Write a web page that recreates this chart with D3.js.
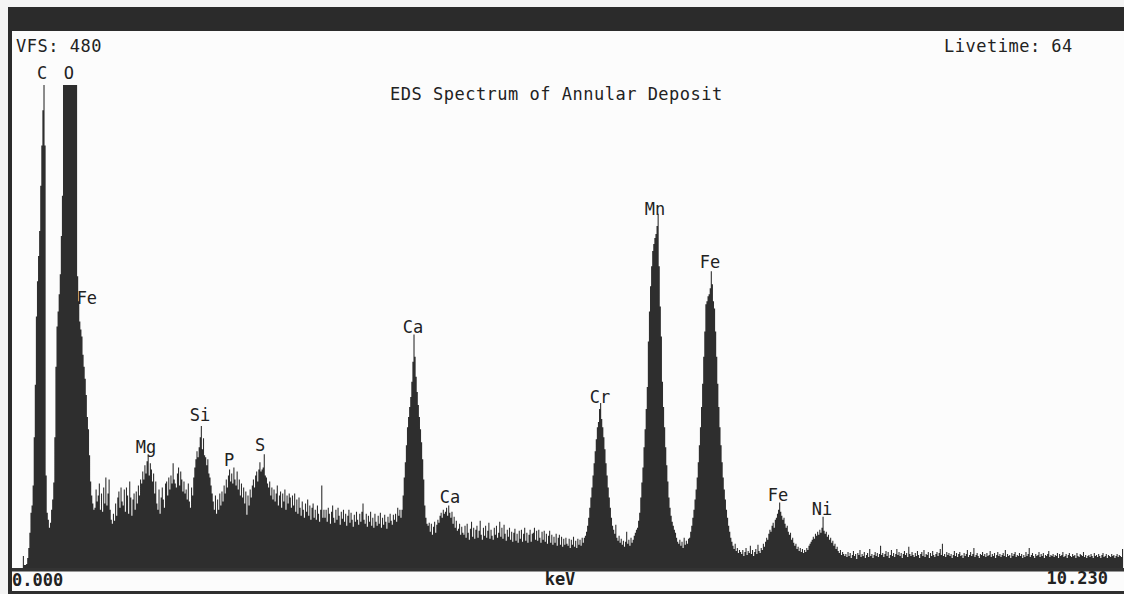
<!DOCTYPE html>
<html>
<head>
<meta charset="utf-8">
<script src="https://cdn.jsdelivr.net/npm/d3@7"></script>
<style>
  html, body { margin: 0; padding: 0; background: #f4f4f4; }
  svg { display: block; }
  text { font-family: "DejaVu Sans Mono", "Liberation Mono", monospace; fill: #222; }
</style>
</head>
<body>
<svg id="chart" width="1124" height="594"></svg>
<script>
// Acquisition settings
const vfs = 480;              // vertical full scale, counts
const liveTime = 64;          // seconds
const keVPerChannel = 0.01;   // 10 eV per channel
const energyRange = [0, 10.23];

// Counts per channel (1024 channels, 0 - 10.23 keV), rows of 32 channels
const counts = [
  0,0,0,0,0,0,0,0,0,0, 12,3,3,4,10,20,35,55,62,82, 130,182,250,285,310,335,380,420,455,480, 420,92,
  55,48,40,45,58,68,85,130,200,240, 255,272,292,330,370,480,480,480,480,480, 480,480,480,480,480,480,480,480,290,265, 245,237,
  230,212,200,188,172,150,138,112,86,72, 64,58,60,78,66,72,84,58,74,56, 80,64,90,62,74,88,58,48,44,54, 47,64,
  52,70,76,60,80,66,62,78,56,80, 72,54,86,70,52,68,74,58,76,64, 82,72,88,84,96,88,102,94,106,113, 92,104,
  98,86,94,74,86,64,58,78,54,70, 80,68,60,84,86,72,90,78,92,84, 104,88,84,80,94,100,82,96,88,76, 86,74,
  78,68,84,66,60,80,72,90,100,108, 116,110,120,130,141,118,129,112,110,102, 108,94,90,82,74,66,58,72,54,68, 58,74,
  62,76,66,82,74,88,80,92,98,86, 94,84,100,88,82,96,78,88,72,84, 70,80,64,76,53,72,62,78,70,82, 88,80,
  92,96,86,98,105,96,98,100,113,92, 90,84,80,86,72,80,68,78,66,74, 82,62,72,76,60,74,66,78,58,72, 64,74,
  70,60,72,62,74,56,68,54,70,60, 52,66,58,50,64,56,68,52,62,48, 60,64,50,58,48,62,54,46,58,82, 50,58,
  50,58,46,60,54,44,56,62,50,45, 58,48,60,52,43,56,49,58,46,54, 42,52,58,45,55,48,41,53,46,56, 48,43,
  54,46,56,64,48,44,54,41,52,46, 56,42,50,40,54,46,42,52,44,55, 40,50,43,53,46,39,51,45,54,47, 43,53,
  48,54,46,60,52,58,50,58,72,90, 105,122,140,150,160,170,185,205,232,210, 190,175,162,150,138,125,108,88,62,50, 44,42,
  45,36,44,33,41,46,35,43,48,45, 52,55,50,58,54,56,60,52,62,55, 50,56,44,51,40,47,37,39,44,33, 41,35,
  33,42,30,44,35,28,39,46,31,40, 29,38,42,30,37,47,33,28,40,32, 42,30,37,45,29,38,32,28,40,33, 42,30,
  35,46,31,40,29,43,34,27,38,31, 40,28,36,26,35,39,27,34,25,37, 29,38,26,34,40,27,35,25,33,38, 26,34,
  35,40,28,37,27,38,30,25,36,28, 37,26,34,24,32,37,25,33,23,31, 25,34,22,30,33,23,31,21,29,23, 30,24,
  22,29,20,28,23,31,21,27,20,29, 23,28,22,30,25,30,32,36,42,50, 60,70,80,92,104,116,128,140,145,158, 164,148,
  140,130,118,104,92,80,70,60,50,42, 38,34,43,30,27,32,25,29,23,27, 21,26,36,24,28,22,30,25,28,32, 35,38,
  40,47,55,70,85,100,120,138,158,180, 225,255,280,300,315,322,328,332,340,352, 300,260,230,185,160,140,120,102,86,70, 60,52,
  46,42,38,35,30,26,24,28,22,26, 20,30,23,27,24,29,30,36,42,50, 58,68,78,90,105,122,140,160,183,210, 235,262,
  265,270,272,278,295,282,265,258,235,210, 183,160,140,122,105,90,78,68,58,50, 42,36,30,26,22,19,24,17,20,15, 18,16,
  14,18,12,16,20,13,17,15,22,14, 18,12,16,19,14,23,17,15,20,18, 24,21,26,30,28,34,38,36,42,45, 40,48,
  50,54,58,65,56,52,48,50,44,40, 42,36,33,35,28,30,25,22,24,19, 21,17,20,16,19,15,18,16,20,18, 22,24,
  26,28,31,29,34,32,36,33,38,35, 40,51,37,34,36,31,33,28,30,25, 27,22,24,19,21,17,15,18,13,16, 14,12,
  14,11,16,12,15,10,13,17,12,14, 9,15,13,18,11,14,12,16,10,13, 15,11,19,12,14,10,13,16,12,15, 11,14,
  22,13,15,11,14,17,12,16,10,13, 18,12,15,11,14,19,13,16,12,15, 10,14,17,13,15,11,21,14,12,16, 13,11,
  15,12,17,13,10,14,16,12,18,11, 14,13,16,10,15,12,17,13,11,14, 16,12,15,19,13,24,12,14,11,16, 13,15,
  12,14,10,13,17,12,15,11,14,16, 12,13,10,15,12,14,18,11,13,16, 12,14,20,11,13,15,12,10,14,13, 16,12,
  14,11,15,12,13,17,11,14,12,15, 10,13,16,12,14,11,13,15,12,18, 11,14,12,13,10,15,12,14,16,11, 13,12,
  15,12,14,10,13,11,16,12,14,20, 11,13,15,12,10,14,12,13,16,11, 14,12,15,10,13,12,14,17,11,13, 12,14,
  11,13,12,15,10,14,12,13,16,11, 12,14,10,13,15,12,11,14,12,13, 10,15,12,11,14,13,12,16,11,13, 10,12,
  13,11,14,12,10,15,12,13,11,14, 12,10,13,15,11,12,14,10,13,12, 11,14,12,13,10,12,14,11,13,12, 11,19
];

// Peak identifications: element, energy (keV), count level the tag sits on
const peakNames    = ["C", "O", "Fe", "Mg", "Si", "P", "S", "Ca", "Ca", "Cr", "Mn", "Fe", "Fe", "Ni"];
const peakEnergies = [0.277, 0.525, 0.69, 1.235, 1.733, 2.0, 2.286, 3.696, 4.037, 5.419, 5.926, 6.433, 7.06, 7.465];
const peakLevels   = [486, 486, 262, 114, 146, 101, 116, 234, 65, 164, 351, 298, 67, 53];

const title = "EDS Spectrum of Annular Deposit";
const axisTitle = "keV";

const svg = d3.select("#chart");
const W = 1124, H = 594;
const frame = { left: 8, top: 7, border: 4, band: 24 };
const plot = { left: 12, right: 1122, base: 568, top: 85 };

const x = d3.scaleLinear().domain(energyRange).range([plot.left, plot.right]);
const y = d3.scaleLinear().domain([0, vfs]).range([plot.base, plot.top]);

// panel background and frame
svg.append("rect").attr("x", frame.left).attr("y", frame.top)
  .attr("width", W - frame.left).attr("height", H - frame.top).attr("fill", "#fcfcfc");
svg.append("rect").attr("x", frame.left).attr("y", frame.top)
  .attr("width", W - frame.left).attr("height", frame.band).attr("fill", "#2b2b2b");
svg.append("rect").attr("x", frame.left).attr("y", frame.top)
  .attr("width", frame.border).attr("height", H - frame.top).attr("fill", "#2b2b2b");
svg.append("rect").attr("x", frame.left).attr("y", H - 3)
  .attr("width", W - frame.left).attr("height", 3).attr("fill", "#2f2f2f");

// spectrum, clipped at full scale
const pts = counts.map((c, i) => ({ e: i * keVPerChannel, c: Math.min(c, vfs) }));
pts.push({ e: counts.length * keVPerChannel, c: pts[pts.length - 1].c });
const area = d3.area()
  .x(d => x(d.e))
  .y0(y(0))
  .y1(d => y(d.c))
  .curve(d3.curveStepAfter);
svg.append("path").datum(pts).attr("d", area).attr("fill", "#2e2e2e");

// energy axis baseline
svg.append("rect").attr("x", plot.left).attr("y", plot.base)
  .attr("width", W - plot.left).attr("height", 3.5).attr("fill", "#333");

// header texts
const label = (t, px, py, opts = {}) => svg.append("text")
  .attr("x", px).attr("y", py)
  .attr("font-size", opts.size || 17)
  .attr("letter-spacing", opts.ls !== undefined ? opts.ls : 0.5)
  .attr("font-weight", opts.bold ? "bold" : "normal")
  .attr("text-anchor", opts.anchor || "start")
  .text(t);

label(`VFS: ${vfs}`, 16, 52);
label(`Livetime: ${liveTime}`, 944, 52);
label(title, 390, 100);

// peak tags
svg.append("g").selectAll("text")
  .data(peakNames.map((n, i) => ({ n, e: peakEnergies[i], lv: peakLevels[i] })))
  .join("text")
  .attr("x", d => x(d.e))
  .attr("y", d => y(d.lv))
  .attr("text-anchor", "middle")
  .attr("font-size", 17)
  .text(d => d.n);

// energy scale end labels
const fmt = d3.format(".3f");
label(fmt(energyRange[0]), plot.left, 586, { bold: true, ls: 0 });
label(axisTitle, 560, 585, { bold: true, ls: 0, anchor: "middle" });
label(fmt(energyRange[1]), 1108, 584, { bold: true, ls: 0, anchor: "end" });
</script>
</body>
</html>
